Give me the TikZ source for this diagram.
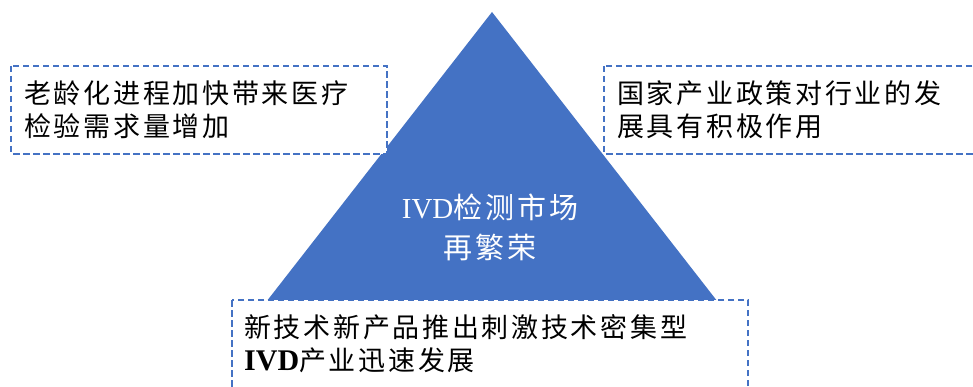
\documentclass[tikz,border=0pt]{standalone}
\usepackage{fontspec}
\setmainfont{Liberation Serif}
\newfontfamily\cjk[LetterSpace=10]{Noto Sans CJK SC}
\definecolor{ppblue}{HTML}{4472C4}
\begin{document}
\begin{tikzpicture}[x=1pt,y=-1pt,
  dbox/.style={draw=ppblue, line width=2.2pt, dash pattern=on 6.5pt off 3.5pt, fill=white},
  btext/.style={font=\fontsize{27}{33}\selectfont\cjk, text=black, align=left, anchor=west, inner sep=0pt},
  ctext/.style={font=\fontsize{29}{40}\selectfont\cjk, text=white, align=center, inner sep=0pt}]
\useasboundingbox (0,0) rectangle (973,387);
\clip (0,0) rectangle (973,387);
\fill[white] (0,0) rectangle (973,387);
% triangle
\coordinate (apex) at (492,12);
\coordinate (bl) at (263,306);
\coordinate (br) at (721,306);
\fill[ppblue] (apex) -- (br) -- (bl) -- cycle;
% boxes
\draw[dbox] (11,66) rectangle (387,154);
\draw[dbox] (604,66) rectangle (990,154);
\draw[dbox] (232,300) rectangle (748,400);
% texts
\node[btext] (lefttext) at (24,110) {老龄化进程加快带来医疗\\检验需求量增加};
\node[btext] (righttext) at (617,110) {国家产业政策对行业的发\\展具有积极作用};
\node[btext] (bottomtext) at (244,344) {新技术新产品推出刺激技术密集型\\{\rmfamily\bfseries\fontsize{30}{33}\selectfont IVD}产业迅速发展};
\node[ctext] (center) at (490,227) {{\rmfamily IVD}检测市场\\再繁荣};
\end{tikzpicture}
\end{document}
